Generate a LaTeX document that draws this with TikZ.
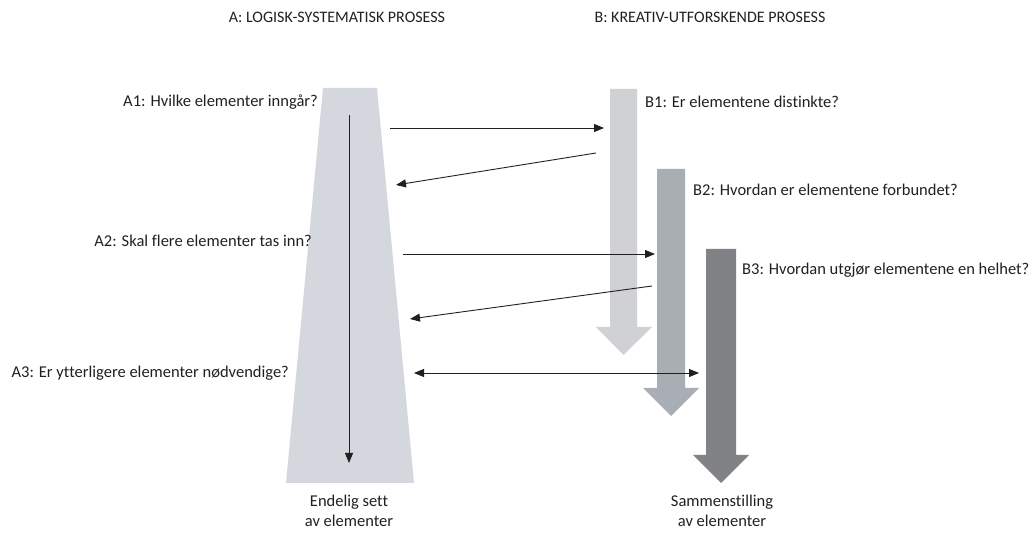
\documentclass[tikz,border=0pt]{standalone}
\usepackage{fontspec}
\setmainfont{Carlito}[Ligatures=NoCommon]
\usetikzlibrary{arrows.meta}
\definecolor{trapc}{HTML}{D5D7DE}
\definecolor{bonec}{HTML}{D0D1D5}
\definecolor{btwoc}{HTML}{A8AEB4}
\definecolor{bthreec}{HTML}{808285}
\definecolor{txtc}{HTML}{231F20}
\tikzset{
  lbl/.style={font=\fontsize{16.5}{20}\selectfont, text=txtc, inner sep=0pt},
  ttl/.style={font=\fontsize{16}{19}\selectfont, text=txtc, inner sep=0pt},
  conn/.style={draw=txtc, line width=0.9pt, -{Triangle[length=10pt,width=8pt]}},
  dconn/.style={draw=txtc, line width=0.9pt, {Triangle[length=10pt,width=8pt]}-{Triangle[length=10pt,width=8pt]}},
}
\begin{document}
\begin{tikzpicture}[x=1pt,y=-1pt]
\useasboundingbox (0,0) rectangle (1034,534);
% trapezoid
\fill[trapc] (323,88) -- (377,88) -- (414,483) -- (286,483) -- cycle;
% B arrows
\fill[bonec] (610,89) -- (637,89) -- (637,327) -- (652,327) -- (623.5,355) -- (596,327) -- (610,327) -- cycle;
\fill[btwoc] (657,169) -- (685,169) -- (685,388) -- (699,388) -- (671,416) -- (643,388) -- (657,388) -- cycle;
\fill[bthreec] (706,249) -- (736,249) -- (736,455) -- (749,455) -- (721,483) -- (693,455) -- (706,455) -- cycle;
% titles
\node[ttl] (ta) at (337,17) {A: LOGISK-SYSTEMATISK PROSESS};
\node[ttl] (tb) at (710,17) {B: KREATIV-UTFORSKENDE PROSESS};
% labels
\node[lbl, anchor=east] (a1) at (318,102) {A1: Hvilke elementer inngår?};
\node[lbl, anchor=east] (a2) at (312,241) {A2: Skal flere elementer tas inn?};
\node[lbl, anchor=east] (a3) at (289,373) {A3: Er ytterligere elementer nødvendige?};
\node[lbl, anchor=west] (b1) at (645,102) {B1: Er elementene distinkte?};
\node[lbl, anchor=west] (b2) at (693,190) {B2: Hvordan er elementene forbundet?};
\node[lbl, anchor=west] (b3) at (742,270) {B3: Hvordan utgjør elementene en helhet?};
\node[lbl, align=center] (ea) at (349,511) {Endelig sett\\av elementer};
\node[lbl, align=center] (eb) at (722,511) {Sammenstilling\\av elementer};
% connector coordinates
\coordinate (v0) at (349,115);
\coordinate (v1) at (349,463);
\coordinate (c1s) at (390,128);
\coordinate (c1e) at (604,128);
\coordinate (c2s) at (596,153);
\coordinate (c2e) at (396,185);
\coordinate (c3s) at (403,254);
\coordinate (c3e) at (655,254);
\coordinate (c4s) at (652,286);
\coordinate (c4e) at (410,319);
\coordinate (c5s) at (414,373);
\coordinate (c5e) at (699,373);
\draw[conn] (v0) -- (v1);
\draw[conn] (c1s) -- (c1e);
\draw[conn] (c2s) -- (c2e);
\draw[conn] (c3s) -- (c3e);
\draw[conn] (c4s) -- (c4e);
\draw[dconn] (c5s) -- (c5e);
\end{tikzpicture}
\end{document}
